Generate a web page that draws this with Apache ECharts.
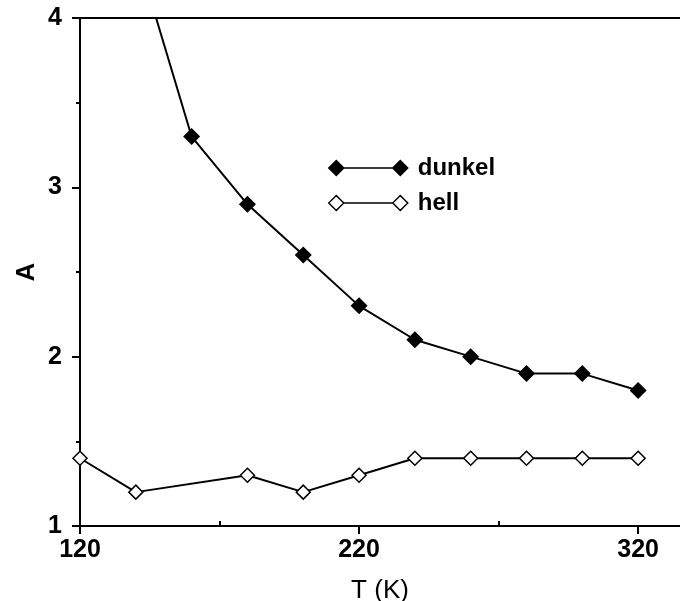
<!DOCTYPE html>
<html><head><meta charset="utf-8">
<script src="https://cdn.jsdelivr.net/npm/echarts@6/dist/echarts.min.js"></script>
<style>html,body{margin:0;padding:0;background:#fff}#c{width:680px;height:601px}</style>
</head><body><div id="c"></div>
<script>
const tempsDunkel = [140, 160, 180, 200, 220, 240, 260, 280, 300, 320];
const valuesDunkel = [4.4, 3.3, 2.9, 2.6, 2.3, 2.1, 2.0, 1.9, 1.9, 1.8];
const tempsHell = [120, 140, 180, 200, 220, 240, 260, 280, 300, 320];
const valuesHell = [1.4, 1.2, 1.3, 1.2, 1.3, 1.4, 1.4, 1.4, 1.4, 1.4];
const xMajorTicks = [120, 220, 320];
const xMinorTicks = [170, 270];
const seriesNames = ['dunkel', 'hell'];

const FONT = '"Liberation Sans", Arial, sans-serif';
const legendIcon = 'path://M0,7.5L7.5,0L15,7.5L7.5,15Z M15,7.5L64,7.5 M64,7.5L71.5,0L79,7.5L71.5,15Z';
const X_MIN = 120, X_MAX = 335;

const chart = echarts.init(document.getElementById('c'), null, {renderer: 'canvas'});
chart.setOption({
  animation: false,
  backgroundColor: '#fff',
  textStyle: {fontFamily: FONT},
  grid: {left: 80, right: 0, top: 18, bottom: 75, containLabel: false, outerBoundsMode: 'none'},
  legend: {
    orient: 'vertical',
    left: 323, top: 151,
    itemWidth: 79, itemHeight: 15, itemGap: 11,
    icon: legendIcon,
    textStyle: {fontFamily: FONT, fontSize: 24, fontWeight: 'bold', color: '#000', padding: [0, 0, 0, 5]},
    data: [
      {name: seriesNames[0], icon: legendIcon, itemStyle: {color: '#000', borderColor: '#000', borderWidth: 1.5}},
      {name: seriesNames[1], icon: legendIcon, itemStyle: {color: '#fff', borderColor: '#000', borderWidth: 1.5}}
    ]
  },
  xAxis: [
    {
      type: 'value', min: X_MIN, max: X_MAX, position: 'bottom',
      name: 'T (K)', nameLocation: 'middle', nameGap: 52, nameMoveOverlap: false,
      nameTextStyle: {fontFamily: FONT, fontSize: 26, color: '#000'},
      axisLine: {show: true, onZero: false, lineStyle: {color: '#000', width: 2}},
      axisTick: {show: true, inside: false, length: 8, lineStyle: {color: '#000', width: 2}, customValues: xMajorTicks},
      axisLabel: {show: true, margin: 12, fontFamily: FONT, fontSize: 25, fontWeight: 'bold', color: '#000', customValues: xMajorTicks},
      splitLine: {show: false}
    },
    {
      type: 'value', min: X_MIN, max: X_MAX, position: 'bottom',
      axisLine: {show: false, onZero: false},
      axisTick: {show: true, inside: true, length: 5, lineStyle: {color: '#000', width: 2}, customValues: xMinorTicks},
      axisLabel: {show: false},
      splitLine: {show: false}
    },
    {
      type: 'value', min: X_MIN, max: X_MAX, position: 'top',
      axisLine: {show: true, onZero: false, lineStyle: {color: '#000', width: 2}},
      axisTick: {show: false}, axisLabel: {show: false}, splitLine: {show: false}
    }
  ],
  yAxis: {
    type: 'value', min: 1, max: 4, interval: 1,
    name: 'A', nameLocation: 'middle', nameGap: 40, nameMoveOverlap: false,
    nameTextStyle: {fontFamily: FONT, fontSize: 26, fontWeight: 'bold', color: '#000'},
    axisLine: {show: true, onZero: false, lineStyle: {color: '#000', width: 2}},
    axisTick: {show: true, inside: false, length: 8, lineStyle: {color: '#000', width: 2}},
    minorTick: {show: true, splitNumber: 2, length: 4, lineStyle: {color: '#000', width: 2}},
    axisLabel: {margin: 18, fontFamily: FONT, fontSize: 25, fontWeight: 'bold', color: '#000'},
    splitLine: {show: false}, minorSplitLine: {show: false}
  },
  series: [
    {
      name: seriesNames[0], type: 'line', xAxisIndex: 0,
      data: tempsDunkel.map((t, i) => [t, valuesDunkel[i]]),
      symbol: 'diamond', symbolSize: 17, clip: true,
      lineStyle: {color: '#000', width: 2},
      itemStyle: {color: '#000', borderColor: '#000', borderWidth: 0},
      z: 3
    },
    {
      name: seriesNames[1], type: 'line', xAxisIndex: 0,
      data: tempsHell.map((t, i) => [t, valuesHell[i]]),
      symbol: 'diamond', symbolSize: 14, clip: false,
      lineStyle: {color: '#000', width: 2},
      itemStyle: {color: '#fff', borderColor: '#000', borderWidth: 1.5},
      z: 3
    }
  ]
});
</script></body></html>
